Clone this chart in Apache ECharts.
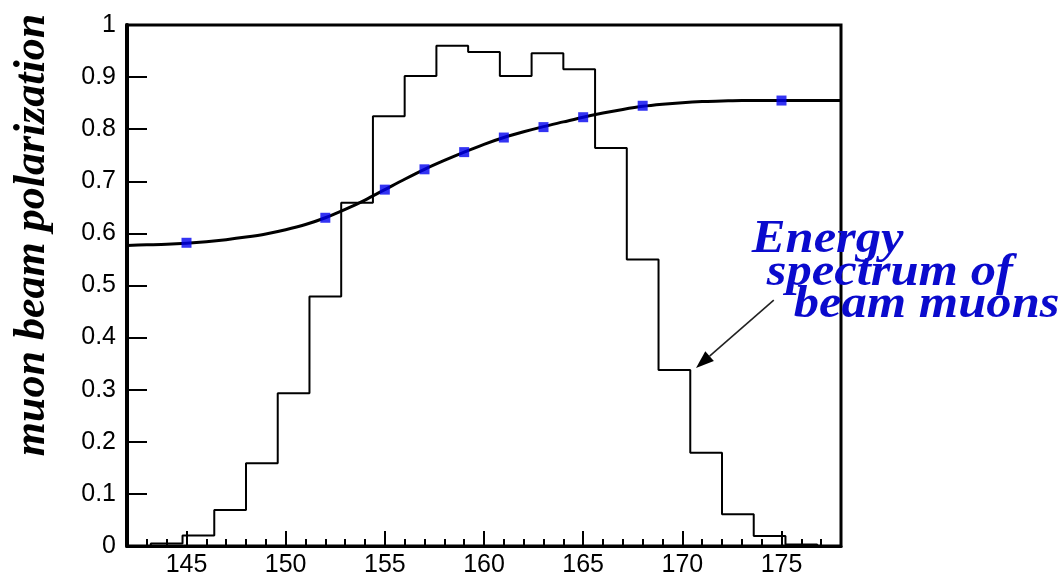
<!DOCTYPE html>
<html>
<head>
<meta charset="utf-8">
<title>Muon beam polarization</title>
<script src="https://cdn.jsdelivr.net/npm/echarts@6/dist/echarts.min.js"></script>
<style>
  html, body { margin: 0; padding: 0; background: #fff; }
  #chart { width: 1064px; height: 583px; }
</style>
</head>
<body>
<div id="chart"></div>
<script>
// Energy spectrum histogram: bin edges (energy) and normalised content per bin
const histEdges = [143.2, 144.8, 146.4, 148.0, 149.6, 151.2, 152.8, 154.4, 156.0, 157.6, 159.2,
                   160.8, 162.4, 164.0, 165.6, 167.2, 168.8, 170.4, 172.0, 173.6, 175.2, 176.8];
const histCounts = [0.005, 0.020, 0.069, 0.159, 0.293, 0.479, 0.659, 0.825, 0.902, 0.960, 0.948,
                    0.902, 0.946, 0.915, 0.764, 0.550, 0.338, 0.179, 0.061, 0.019, 0.003];

// Polarization measured at selected beam energies
const pointEnergy = [145, 152, 155, 157, 159, 161, 163, 165, 168, 175];
const pointPolar  = [0.582, 0.630, 0.684, 0.723, 0.756, 0.784, 0.804, 0.823, 0.845, 0.855];

// Smooth polarization curve through the points
const curveEnergy = [142, 143, 144, 145, 146, 147, 148, 149, 150, 151, 152, 153, 154, 155, 156,
                     157, 158, 159, 160, 161, 162, 163, 164, 165, 166, 167, 168, 169, 170, 171,
                     172, 173, 174, 175, 176, 177, 178];
const curvePolar  = [0.577, 0.578, 0.579, 0.581, 0.584, 0.588, 0.593, 0.599, 0.607, 0.617, 0.630,
                     0.646, 0.664, 0.684, 0.704, 0.723, 0.740, 0.756, 0.771, 0.784, 0.795, 0.805,
                     0.814, 0.823, 0.831, 0.838, 0.844, 0.848, 0.851, 0.853, 0.854, 0.855, 0.855,
                     0.855, 0.855, 0.855, 0.855];

// Axis ticks
const xMajorTicks = [145, 150, 155, 160, 165, 170, 175];
const xMinorTicks = [143, 144, 146, 147, 148, 149, 151, 152, 153, 154, 156, 157, 158, 159,
                     161, 162, 163, 164, 166, 167, 168, 169, 171, 172, 173, 174, 176, 177];

const yTitle = 'muon beam polarization';
const noteLines = ['Energy', 'spectrum of', 'beam muons'];

// Histogram outline as a stepped line
const histData = [[histEdges[0], 0]];
for (let i = 0; i < histCounts.length; i++) histData.push([histEdges[i], histCounts[i]]);
histData.push([histEdges[histEdges.length - 1], 0]);

const curveData = curveEnergy.map((e, i) => [e, curvePolar[i]]);
const pointData = pointEnergy.map((e, i) => [e, pointPolar[i]]);

const chart = echarts.init(document.getElementById('chart'), null, { renderer: 'canvas' });

const labelFont = { fontFamily: 'Liberation Sans, Arial, sans-serif', fontSize: 25, color: '#000' };

chart.setOption({
  animation: false,
  backgroundColor: '#fff',
  grid: {
    show: true, left: 127, right: 223, top: 25, bottom: 37,
    borderColor: '#000', borderWidth: 3, backgroundColor: 'transparent'
  },
  xAxis: [
    {
      type: 'value', min: 142, max: 178, position: 'bottom',
      axisLine: { show: true, onZero: false, lineStyle: { color: '#000', width: 3 } },
      axisTick: { show: true, inside: true, length: 7, customValues: xMinorTicks,
                  lineStyle: { color: '#000', width: 2 } },
      axisLabel: Object.assign({ customValues: xMajorTicks, margin: 7 }, labelFont),
      splitLine: { show: false }
    },
    {
      type: 'value', min: 142, max: 178, position: 'bottom',
      axisLine: { show: false, onZero: false },
      axisTick: { show: true, inside: true, length: 15, customValues: xMajorTicks,
                  lineStyle: { color: '#000', width: 2 } },
      axisLabel: { show: false },
      splitLine: { show: false }
    }
  ],
  yAxis: {
    type: 'value', min: 0, max: 1, interval: 0.1,
    axisLine: { show: true, lineStyle: { color: '#000', width: 4 } },
    axisTick: { show: true, inside: true, length: 20, lineStyle: { color: '#000', width: 2 } },
    axisLabel: Object.assign({ margin: 11,
      formatter: v => String(Math.round(v * 10) / 10) }, labelFont),
    splitLine: { show: false }
  },
  series: [
    {
      name: 'spectrum', type: 'line', step: 'end', data: histData,
      symbol: 'none', lineStyle: { color: '#000', width: 2 }, z: 2
    },
    {
      name: 'polarization curve', type: 'line', data: curveData, smooth: 0.3,
      symbol: 'none', lineStyle: { color: '#000', width: 3 }, z: 3
    },
    {
      name: 'polarization', type: 'scatter', data: pointData,
      symbol: 'rect', symbolSize: 10, itemStyle: { color: '#0000f0' }, z: 4
    }
  ]
});

// Annotation anchors in data coordinates (energy, value)
const noteAnchors = [[173.5, 0.587], [174.26, 0.524], [175.62, 0.4626]];
const arrowTail = [174.61, 0.472];
const arrowTip = [170.69, 0.3417];

function px(p) { return chart.convertToPixel({ gridIndex: 0 }, p); }

const graphics = [];
noteLines.forEach((t, i) => {
  const p = px(noteAnchors[i]);
  graphics.push({
    type: 'text', x: p[0], y: p[1], scaleX: 1.1, z: 10,
    style: {
      text: t, fill: '#0a0acd', align: 'left', verticalAlign: 'middle',
      font: 'italic bold 46px "Liberation Serif", "Times New Roman", serif'
    }
  });
});

// Arrow from the label to the histogram
const a = px(arrowTail), b = px(arrowTip);
const dx = b[0] - a[0], dy = b[1] - a[1];
const len = Math.sqrt(dx * dx + dy * dy);
const ux = dx / len, uy = dy / len;
const headLen = 18, headHalf = 6.5;
const bx = b[0] - ux * headLen, by = b[1] - uy * headLen;
graphics.push({
  type: 'line', z: 10,
  shape: { x1: a[0], y1: a[1], x2: bx, y2: by },
  style: { stroke: '#222', lineWidth: 1.6 }
});
graphics.push({
  type: 'polygon', z: 10,
  shape: { points: [[b[0], b[1]], [bx - uy * headHalf, by + ux * headHalf], [bx + uy * headHalf, by - ux * headHalf]] },
  style: { fill: '#000' }
});

// Vertical axis title
graphics.push({
  type: 'text', x: 33, y: 235, rotation: Math.PI / 2, z: 10,
  style: {
    text: yTitle, fill: '#000', align: 'center', verticalAlign: 'middle',
    font: 'italic bold 44px "Liberation Serif", "Times New Roman", serif'
  }
});

chart.setOption({ graphic: graphics });
</script>
</body>
</html>
